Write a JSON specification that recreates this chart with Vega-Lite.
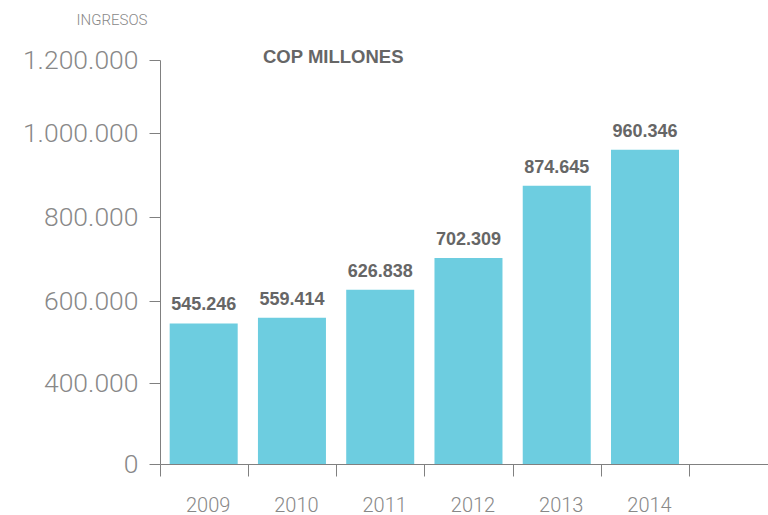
{
  "$schema": "https://vega.github.io/schema/vega-lite/v6.json",
  "width": 608,
  "height": 404,
  "autosize": {"type": "none"},
  "padding": {"left": 160, "top": 60, "right": 0, "bottom": 51},
  "config": {
    "locale": {"number": {"decimal": ",", "thousands": ".", "grouping": [3], "currency": ["$", ""]}},
    "view": {"stroke": null},
    "font": "Roboto"
  },
  "title": {
    "text": "COP MILLONES",
    "anchor": "start",
    "frame": "group",
    "dx": 103,
    "dy": 69,
    "offset": 0,
    "baseline": "alphabetic",
    "font": "Liberation Sans",
    "fontSize": 18.5,
    "fontWeight": "bold",
    "color": "#666666"
  },
  "data": {
    "values": [
      {"anio": "2009", "ingresos": 545246},
      {"anio": "2010", "ingresos": 559414},
      {"anio": "2011", "ingresos": 626838},
      {"anio": "2012", "ingresos": 702309},
      {"anio": "2013", "ingresos": 874645},
      {"anio": "2014", "ingresos": 960346}
    ]
  },
  "encoding": {
    "x": {
      "field": "anio",
      "type": "ordinal",
      "scale": {
        "domain": ["2009", "2010", "2011", "2012", "2013", "2014", " "],
        "paddingInner": 0.2295,
        "paddingOuter": 0.059,
        "align": 0.93
      },
      "axis": {
        "title": null,
        "labelAngle": 0,
        "labelFont": "Roboto",
        "labelFontWeight": 300,
        "labelFontSize": 20,
        "labelColor": "#888888",
        "labelPadding": 19,
        "labelOffset": 14,
        "bandPosition": 0,
        "tickExtra": false,
        "tickOffset": -10,
        "tickSize": 12,
        "tickColor": "#808080",
        "domainColor": "#808080"
      }
    },
    "y": {
      "field": "ingresos",
      "type": "quantitative",
      "scale": {
        "domain": [0, 400000, 600000, 800000, 1000000, 1200000],
        "range": [404, 323, 241, 157, 73, 0]
      },
      "axis": {
        "title": "INGRESOS",
        "titleAngle": 0,
        "titleAlign": "right",
        "titleBaseline": "alphabetic",
        "titleX": -13,
        "titleY": -36,
        "titleFont": "Roboto",
        "titleFontWeight": 300,
        "titleFontSize": 15,
        "titleColor": "#888888",
        "values": [0, 400000, 600000, 800000, 1000000, 1200000],
        "labelExpr": "format(datum.value, ',')",
        "grid": false,
        "labelFont": "Roboto",
        "labelFontWeight": 300,
        "labelFontSize": 26.5,
        "labelColor": "#888888",
        "labelPadding": 11,
        "tickSize": 11,
        "tickColor": "#808080",
        "domainColor": "#808080"
      }
    }
  },
  "layer": [
    {"mark": {"type": "bar", "color": "#6DCDE0"}},
    {
      "mark": {
        "type": "text",
        "baseline": "alphabetic",
        "dy": -13,
        "font": "Liberation Sans",
        "fontWeight": "bold",
        "fontSize": 18,
        "color": "#666666"
      },
      "encoding": {"text": {"field": "ingresos", "type": "quantitative", "format": ","}}
    }
  ]
}
